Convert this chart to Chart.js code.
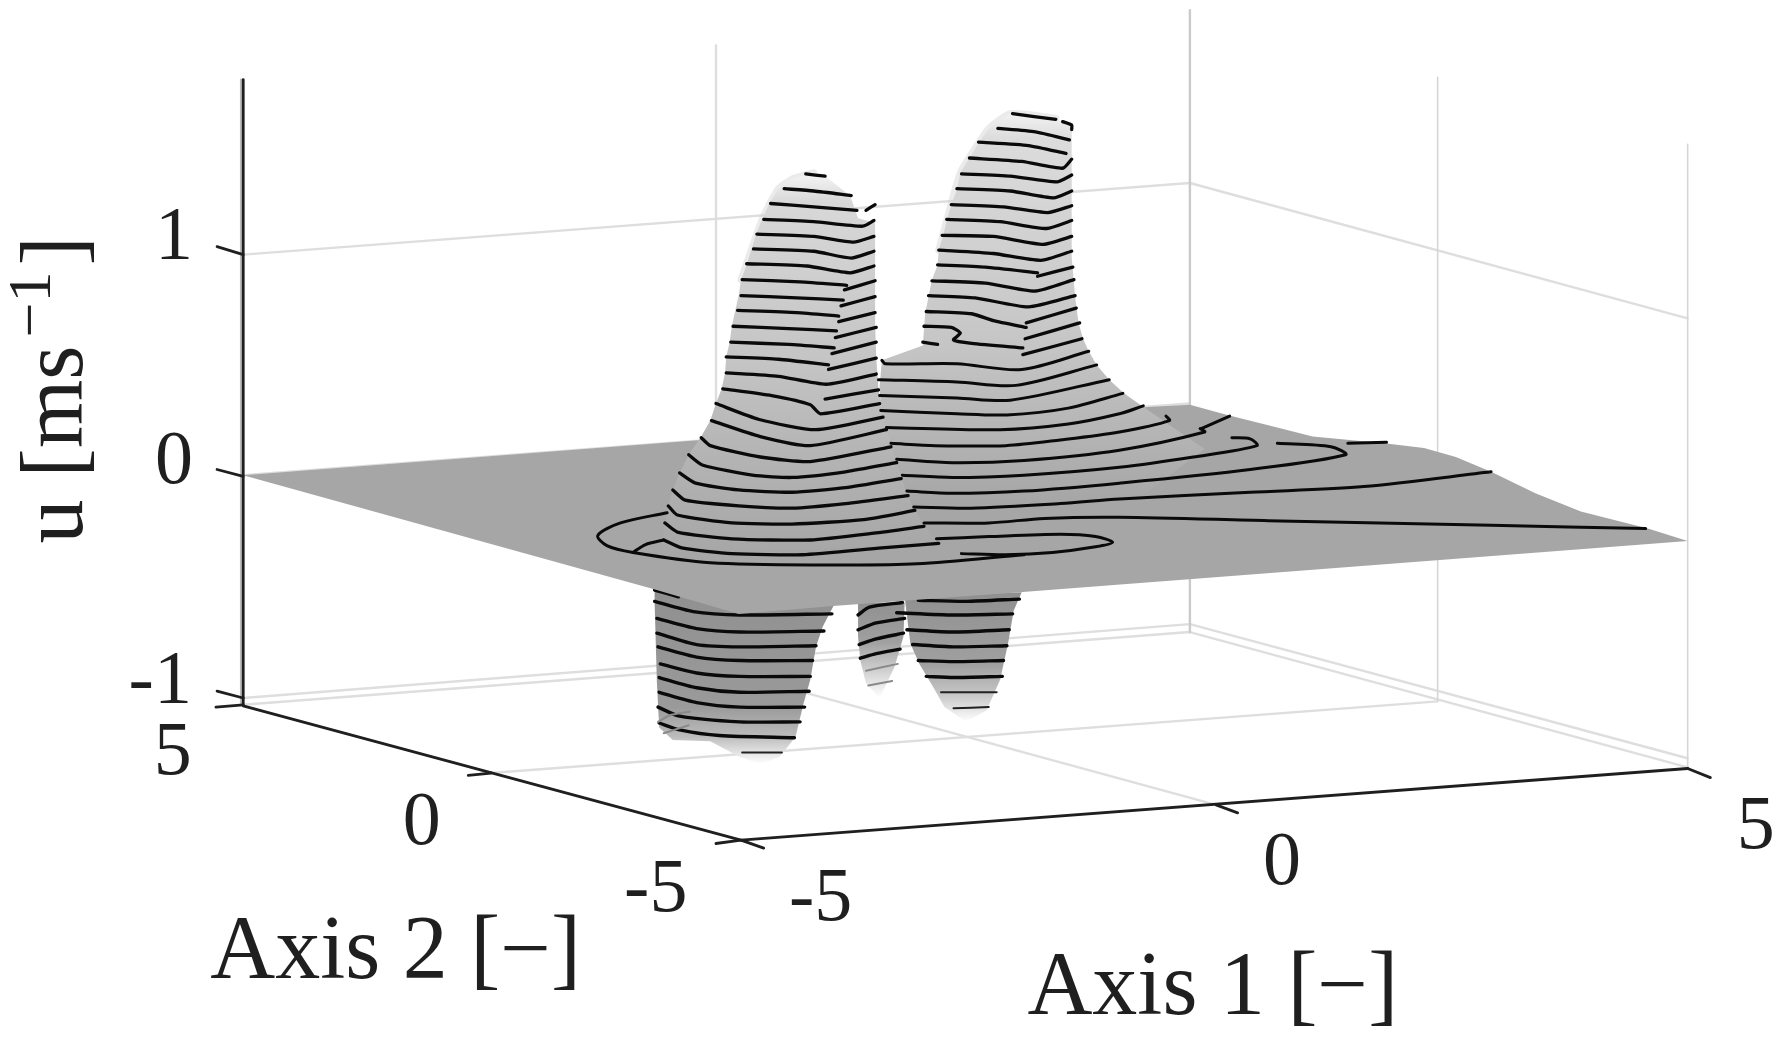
<!DOCTYPE html>
<html>
<head>
<meta charset="utf-8">
<style>
  html, body { margin: 0; padding: 0; background: #fff; }
  canvas { display: block; }
</style>
<script src="https://cdn.jsdelivr.net/npm/chart.js@4/dist/chart.umd.min.js"></script>
</head>
<body>
<canvas id="surface" width="1782" height="1047"></canvas>
<script>

// tick labels: [text, x, baseline]
const zTickLabels = [['1', 153, 228], ['0', 153, 425], ['-1', 141, 618]];
const axis2TickLabels = [['5', 152, 681], ['0', 371, 742], ['-5', 577, 801]];
const axis1TickLabels = [['-5', 722, 809], ['0', 1128, 778], ['5', 1545, 746]];

// box and axes
const gridFaint = [
  [[214, 224], [1047, 161], [1485, 280]],
  [[214, 418], [1047, 355]],
  [[214, 614], [1047, 549], [1485, 667]],
  [[214, 620], [1047, 556], [1485, 675]],
  [[432, 680], [1265, 617]],
  [[630, 588], [1070, 708]],
  [[630, 40], [630, 588]],
];
const gridBack = [[[1047, 9], [1047, 556]]];
const gridThin = [
  [[1265, 68], [1265, 617]],
  [[1485, 127], [1485, 675]],
];
const blackAxes = [
  [[214, 70], [214, 620]],
  [[214, 621], [652, 739], [1485, 676]],
  [[191, 217], [214, 224]],
  [[191, 413], [214, 419]],
  [[191, 608], [214, 614]],
  [[190, 622], [214, 620]],
  [[432, 680], [412, 682]],
  [[652, 739], [630, 742]],
  [[652, 739], [672, 746]],
  [[1070, 708], [1089, 715]],
  [[1485, 676], [1505, 684]],
];

// outlines
const sheetOutline = [
  [214, 418], [574, 518], [650, 540], [733, 533], [897, 521], [1485, 476],
  [1450, 465], [1391, 450], [1351, 434], [1312, 415], [1281, 402], [1253, 394],
  [1218, 390], [1155, 384], [1116, 374], [1080, 365], [1047, 356], [1010, 358],
  [800, 373],
];
const peakAOutline = [
  [716, 152], [698, 157], [685, 166], [677, 179], [671, 192], [665, 207], [661, 220],
  [657, 233], [652, 246], [650, 260], [647, 273], [644, 287], [642, 301], [639, 314],
  [638, 328], [635, 342], [630, 355], [625, 370], [617, 384], [606, 400], [598, 416],
  [592, 431], [588, 444], [585, 460], [583, 474], [583, 488], [826, 478], [813, 462],
  [804, 447], [798, 434], [793, 419], [788, 405], [784, 390], [780, 378], [777, 367],
  [775, 352], [773, 343], [771, 314], [770, 285], [770, 196], [755, 192], [748, 172], [726, 155],
];
const peakBOutline = [
  [889, 100], [870, 113], [861, 126], [853, 139], [845, 152], [842, 167], [837, 180],
  [833, 194], [830, 207], [826, 220], [825, 233], [820, 246], [817, 261], [814, 276],
  [812, 304], [776, 317], [774, 340], [780, 440], [826, 478], [1000, 440], [1060, 395],
  [1006, 358], [989, 346], [976, 334], [965, 321], [958, 309], [953, 298], [949, 284],
  [946, 261], [943, 226], [943, 112], [929, 104],
];
const lobeOneOutline = [
  [576, 518], [576, 530], [578, 600], [580, 640], [592, 651], [625, 652], [651, 666],
  [669, 672], [686, 666], [700, 648], [707, 619], [713, 598], [718, 569], [724, 551], [735, 530],
];
const lobeTwoOutline = [
  [755, 530], [755, 560], [757, 581], [762, 601], [774, 614], [787, 587], [795, 560], [796, 530],
];
const lobeThreeOutline = [
  [796, 525], [801, 566], [809, 584], [821, 604], [831, 622], [850, 635], [868, 625],
  [880, 598], [887, 566], [892, 537], [899, 521],
];

// soft rim along the upper edges of the peaks
const peakRims = [
  [[652, 246], [661, 220], [671, 192], [685, 166], [698, 157], [716, 152]],
  [[826, 220], [833, 194], [845, 152], [861, 126], [870, 113], [889, 100], [929, 104]],
];

// contours on the left peak
const peakAContours = [
  [[709, 153], [726, 155]],
  [[690, 166], [716, 168], [749, 172]],
  [[678, 179], [716, 182], [754, 185]],
  [[770, 180], [762, 185]],
  [[672, 193], [716, 195], [759, 199], [769, 194]],
  [[666, 206], [716, 208], [751, 213], [769, 208]],
  [[663, 219], [716, 221], [749, 227], [769, 221]],
  [[657, 232], [710, 234], [748, 240], [769, 234]],
  [[653, 246], [704, 248], [745, 251]],
  [[743, 255], [770, 247]],
  [[652, 260], [701, 262], [742, 264]],
  [[740, 269], [770, 261]],
  [[649, 273], [701, 275], [738, 278]],
  [[738, 283], [770, 275]],
  [[645, 287], [694, 289], [736, 291]],
  [[735, 297], [771, 288]],
  [[643, 301], [694, 303], [734, 306]],
  [[732, 311], [771, 301]],
  [[639, 314], [685, 316], [729, 321]],
  [[729, 325], [771, 315]],
  [[639, 328], [685, 331], [727, 338], [771, 329]],
  [[726, 351], [773, 343]],
  [[636, 342], [679, 348], [713, 356], [722, 364], [774, 355]],
  [[630, 355], [668, 369], [718, 378], [777, 367]],
  [[626, 370], [669, 384], [713, 392], [780, 378]],
  [[617, 385], [625, 392], [669, 402], [713, 406], [784, 393]],
  [[606, 400], [618, 409], [662, 418], [697, 420], [744, 415], [789, 407]],
  [[598, 416], [612, 425], [650, 431], [697, 433], [744, 429], [793, 421]],
  [[592, 431], [603, 440], [650, 445], [697, 447], [744, 443], [799, 436]],
  [[588, 445], [596, 453], [644, 460], [697, 461], [760, 457], [805, 449]],
  [[585, 460], [596, 468], [644, 474], [713, 475], [769, 469], [813, 463]],
  [[584, 475], [600, 482], [644, 487], [706, 488], [776, 482], [826, 478]],
];

// contours on the right peak
const peakBContours = [
  [[891, 100], [929, 105]],
  [[935, 107], [943, 110], [943, 114]],
  [[878, 113], [911, 116], [941, 123]],
  [[861, 125], [905, 128], [938, 135]],
  [[853, 139], [899, 142], [935, 148], [943, 140]],
  [[846, 153], [889, 155], [930, 160], [943, 154]],
  [[842, 166], [889, 168], [927, 174], [943, 168]],
  [[837, 180], [883, 182], [922, 187], [943, 181]],
  [[833, 193], [880, 195], [921, 201], [943, 194]],
  [[829, 207], [874, 208], [918, 215], [943, 208]],
  [[826, 220], [874, 223], [916, 229], [943, 221]],
  [[825, 233], [867, 235], [913, 240]],
  [[913, 243], [944, 235]],
  [[820, 247], [867, 249], [911, 256], [945, 246]],
  [[817, 260], [858, 262], [905, 270], [946, 260]],
  [[815, 274], [855, 276], [874, 282], [903, 288]],
  [[903, 284], [947, 271]],
  [[813, 287], [837, 288], [845, 293], [839, 299], [855, 302], [900, 306]],
  [[902, 298], [950, 284]],
  [[812, 301], [825, 303]],
  [[900, 312], [952, 298]],
];

// contours running from the front of the ridge out over the sheet
const ridgeContours = [
  [[776, 317], [779, 320], [842, 320], [899, 325], [958, 309]],
  [[773, 334], [842, 336], [894, 339], [965, 321]],
  [[774, 348], [842, 350], [889, 352], [976, 334]],
  [[775, 361], [842, 364], [886, 365], [940, 359], [988, 346]],
  [[780, 376], [880, 378], [940, 373], [985, 364], [1006, 357]],
  [[784, 390], [823, 392], [885, 392], [933, 387], [985, 380], [1029, 370], [1026, 366]],
  [[789, 404], [838, 407], [901, 405], [985, 396], [1060, 380], [1056, 377]],
  [[1057, 377], [1082, 366]],
  [[794, 418], [838, 420], [901, 418], [985, 411], [1050, 402], [1106, 392], [1100, 386], [1084, 385]],
  [[798, 432], [838, 434], [901, 432], [985, 425], [1100, 413], [1184, 400], [1171, 393], [1124, 390]],
  [[1186, 390], [1220, 389]],
  [[804, 446], [854, 447], [933, 443], [985, 439], [1100, 433], [1200, 428], [1312, 415]],
  [[813, 460], [870, 460], [919, 456], [985, 455], [1116, 458], [1312, 462], [1448, 465]],
  [[824, 474], [870, 472], [933, 470], [964, 472], [979, 477], [964, 481], [926, 486], [885, 488], [846, 487]],
  [[587, 451], [546, 460], [526, 471], [534, 480], [557, 486], [625, 495], [728, 497], [807, 496], [901, 488]],
  [[584, 475], [568, 479], [557, 486]],
];

// contours below the sheet
const lobeContours = [
  [[576, 519], [597, 525]],
  [[576, 529], [610, 538], [651, 541], [732, 540]],
  [[578, 544], [613, 553], [651, 556], [725, 555]],
  [[578, 557], [613, 567], [651, 569], [718, 568]],
  [[579, 569], [613, 578], [651, 581], [715, 581]],
  [[581, 584], [613, 592], [651, 595], [713, 595]],
  [[580, 596], [613, 605], [651, 609], [712, 608]],
  [[580, 609], [613, 618], [651, 622], [708, 622]],
  [[579, 622], [598, 630], [651, 635], [704, 635]],
  [[580, 636], [598, 642], [633, 647], [699, 649]],
  [[755, 541], [765, 534], [794, 530]],
  [[755, 554], [771, 548], [796, 544]],
  [[756, 567], [771, 562], [795, 557]],
  [[757, 579], [771, 575], [792, 571]],
  [[808, 528], [850, 529], [897, 527]],
  [[789, 539], [839, 541], [891, 540]],
  [[798, 554], [839, 556], [888, 554]],
  [[803, 567], [839, 569], [886, 568]],
  [[808, 581], [839, 582], [883, 581]],
  [[815, 595], [839, 596], [882, 595]],
];
const thinLobeContours = [
  [[653, 662], [688, 662]],
  [[828, 609], [877, 609]],
  [[839, 623], [870, 622]],
];
const fadedContours = [
  [[579, 635], [590, 629], [607, 626]],
  [[584, 645], [606, 638]],
  [[762, 590], [790, 584]],
  [[764, 603], [785, 599]],
];

const toPoints = pts => pts.map(p => ({ x: p[0], y: p[1] }));

function lineSet(pts, color, width, tension) {
  return {
    data: toPoints(pts),
    showLine: true,
    fill: false,
    borderColor: color,
    borderWidth: width,
    tension: tension || 0,
    borderCapStyle: 'round',
    borderJoinStyle: 'round',
    pointRadius: 0,
  };
}

function shapeSet(pts, background) {
  return {
    data: toPoints(pts),
    showLine: true,
    fill: 'shape',
    backgroundColor: background,
    borderWidth: 0,
    borderColor: 'transparent',
    pointRadius: 0,
  };
}

// vertical shading, stops are [value on the y scale, colour]
function shade(stops) {
  return ctx => {
    const chart = ctx.chart;
    if (!chart.chartArea) return '#aaaaaa';
    const yScale = chart.scales.y;
    const top = yScale.getPixelForValue(stops[0][0]);
    const bottom = yScale.getPixelForValue(stops[stops.length - 1][0]);
    const g = chart.ctx.createLinearGradient(0, top, 0, bottom);
    stops.forEach(s => g.addColorStop((yScale.getPixelForValue(s[0]) - top) / (bottom - top), s[1]));
    return g;
  };
}

// painted back to front, the list is reversed below because Chart.js paints the first set last
const layers = [
  ...gridFaint.map(l => lineSet(l, '#dedede', 2.4)),
  ...gridBack.map(l => lineSet(l, '#cacaca', 2.4)),
  ...gridThin.map(l => lineSet(l, '#d6d6d6', 1.6)),
  lineSet([[212, 70], [212, 620]], '#bdbdbd', 2),
  shapeSet(lobeOneOutline, shade([[518, '#909090'], [622, '#9a9a9a'], [648, '#bcbcbc'], [672, '#ffffff']])),
  shapeSet(lobeTwoOutline, shade([[530, '#909090'], [565, '#a0a0a0'], [590, '#d0d0d0'], [614, '#ffffff']])),
  shapeSet(lobeThreeOutline, shade([[522, '#909090'], [585, '#a0a0a0'], [612, '#c8c8c8'], [635, '#ffffff']])),
  ...lobeContours.map(l => lineSet(l, '#0a0a0a', 3.4, 0.25)),
  ...thinLobeContours.map(l => lineSet(l, '#222222', 2, 0.25)),
  ...fadedContours.map(l => lineSet(l, '#8a8a8a', 2, 0.25)),
  shapeSet(sheetOutline, '#a6a6a6'),
  ...peakRims.map(l => lineSet(l, 'rgba(205,205,205,0.4)', 7, 0.2)),
  shapeSet(peakBOutline, shade([[98, '#f4f4f4'], [122, '#dcdcdc'], [300, '#c6c6c6'], [385, '#b4b4b4'], [440, '#a6a6a6']])),
  shapeSet(peakAOutline, shade([[150, '#f8f8f8'], [178, '#d8d8d8'], [320, '#c4c4c4'], [400, '#b4b4b4'], [490, '#a6a6a6']])),
  ...peakBContours.map(l => lineSet(l, '#0a0a0a', 3.3, 0.2)),
  ...peakAContours.map(l => lineSet(l, '#0a0a0a', 3.3, 0.2)),
  ...ridgeContours.map(l => lineSet(l, '#0a0a0a', 3, 0.3)),
  ...blackAxes.map(l => lineSet(l, '#1f1f1f', 2.8)),
];

// the axis text sits at value positions on the same hidden scales
const axisText = {
  id: 'axisText',
  afterDatasetsDraw(chart) {
    const { ctx, scales } = chart;
    const serif = '"Liberation Serif", serif';
    ctx.save();
    ctx.fillStyle = '#1f1f1f';
    ctx.textBaseline = 'alphabetic';
    ctx.textAlign = 'center';
    ctx.font = `76px ${serif}`;
    [...zTickLabels, ...axis2TickLabels, ...axis1TickLabels].forEach(t => {
      ctx.fillText(t[0], scales.x.getPixelForValue(t[1]), scales.y.getPixelForValue(t[2]));
    });
    ctx.textAlign = 'left';
    ctx.font = `90px ${serif}`;
    ctx.fillText('Axis 2 [\u2212]', scales.x.getPixelForValue(185), scales.y.getPixelForValue(860));
    ctx.fillText('Axis 1 [\u2212]', scales.x.getPixelForValue(904), scales.y.getPixelForValue(892));

    // rotated unit label, superscript set by hand
    ctx.translate(scales.x.getPixelForValue(72), scales.y.getPixelForValue(478));
    ctx.rotate(-Math.PI / 2);
    ctx.font = `88px ${serif}`;
    ctx.fillText('u [ms', 0, 0);
    let at = ctx.measureText('u [ms').width + 8;
    ctx.font = `62px ${serif}`;
    ctx.fillText('\u22121', at, -32);
    at += ctx.measureText('\u22121').width + 6;
    ctx.font = `88px ${serif}`;
    ctx.fillText(']', at, 0);
    ctx.restore();
  },
};

new Chart(document.getElementById('surface'), {
  type: 'scatter',
  data: { datasets: layers.reverse() },
  plugins: [axisText],
  options: {
    responsive: false,
    animation: false,
    layout: { padding: 0 },
    plugins: { legend: { display: false }, tooltip: { enabled: false } },
    scales: {
      x: { type: 'linear', display: false, min: 0, max: 1568 },
      y: { type: 'linear', display: false, min: 0, max: 921, reverse: true },
    },
  },
});
</script>
</body>
</html>
